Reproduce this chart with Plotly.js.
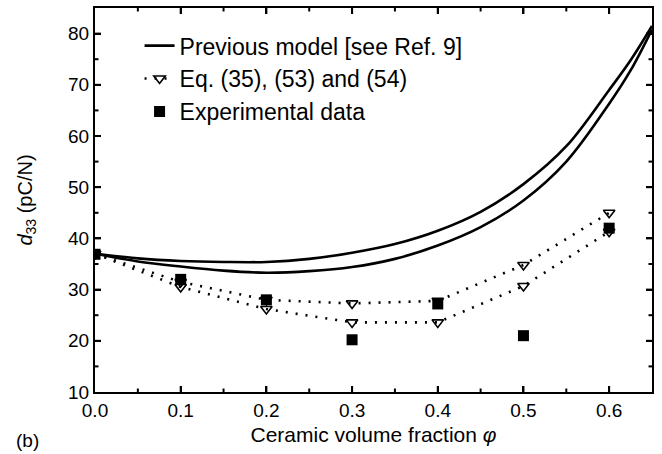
<!DOCTYPE html>
<html><head><meta charset="utf-8">
<script src="https://cdn.plot.ly/plotly-3.0.1.min.js"></script>
<style>html,body{margin:0;padding:0;background:#fff}#chart{width:662px;height:454px}</style>
</head><body><div id="chart"></div>
<script>
// Previous model curves (two branches)
const modelPhi = [0, 0.05, 0.1, 0.15, 0.2, 0.25, 0.3, 0.35, 0.4, 0.45, 0.5, 0.55, 0.6, 0.625, 0.65];
const modelUpper = [37, 36.1, 35.6, 35.4, 35.4, 36, 37.2, 38.9, 41.5, 45.2, 50.6, 58, 69, 74.8, 81.5];
const modelLower = [37, 35.5, 34.5, 33.7, 33.3, 33.6, 34.4, 36, 38.6, 42.2, 47.4, 55, 66.3, 72.8, 80.8];
// Eq. (35), (53) and (54)
const eqPhi = [0, 0.1, 0.2, 0.3, 0.4, 0.5, 0.6];
const eqUpper = [37, 31.5, 28, 27.3, 27.8, 34.8, 45];
const eqLower = [37, 30.5, 26.2, 23.6, 23.6, 30.7, 41.3];
// Experimental data
const expPhi = [0, 0.1, 0.2, 0.3, 0.4, 0.5, 0.6];
const expD33 = [36.9, 32, 28, 20.2, 27.2, 21, 42];
// Axis ticks
const xTicks = [0.1, 0.2, 0.3, 0.4, 0.5, 0.6];
const xMinorTicks = [0.05, 0.15, 0.25, 0.35, 0.45, 0.55];
const yTicks = [20, 30, 40, 50, 60, 70, 80];
const yMinorTicks = [15, 25, 35, 45, 55, 65, 75];

const legendNames = ['Previous model [see Ref. 9]', 'Eq. (35), (53) and (54)', 'Experimental data'];

const FONT = 'Liberation Sans, Arial, Helvetica, sans-serif';
const dotLine = {color: 'black', width: 2.6, dash: '2px,8px'};
const tri = {symbol: 'triangle-down-open', size: 10, color: 'black', line: {width: 1.6, color: 'black'}};

const traces = [
  {x: modelPhi, y: modelUpper, mode: 'lines', line: {color: 'black', width: 2.6, shape: 'spline'},
   name: legendNames[0], legendgroup: 'a'},
  {x: modelPhi, y: modelLower, mode: 'lines', line: {color: 'black', width: 2.6, shape: 'spline'},
   name: legendNames[0], legendgroup: 'a', showlegend: false},
  {x: eqPhi, y: eqUpper, mode: 'lines+markers', line: dotLine, marker: tri,
   name: legendNames[1], legendgroup: 'b'},
  {x: eqPhi, y: eqLower, mode: 'lines+markers', line: dotLine, marker: tri,
   name: legendNames[1], legendgroup: 'b', showlegend: false},
  {x: expPhi, y: expD33, mode: 'markers', marker: {symbol: 'square', size: 11, color: 'black'},
   name: legendNames[2], legendgroup: 'c'}
];

function axis(extra) {
  const a = {
    showline: true, linecolor: 'black', linewidth: 2, mirror: 'ticks',
    ticks: 'inside', ticklen: 6, tickwidth: 2, tickcolor: 'black',
    gridcolor: 'rgba(0,0,0,0)', zerolinecolor: 'rgba(0,0,0,0)',
    tickfont: {family: FONT, size: 19, color: 'black'}
  };
  return Object.assign(a, extra);
}

// tick marks (inside, mirrored) built from the tick arrays
const PW = 557, PH = 384;
const shapes = [];
function xTick(v, len, w) {
  shapes.push({type: 'line', xref: 'x', yref: 'paper', x0: v, x1: v, y0: 0, y1: len / PH, line: {color: 'black', width: w}});
  shapes.push({type: 'line', xref: 'x', yref: 'paper', x0: v, x1: v, y0: 1, y1: 1 - len / PH, line: {color: 'black', width: w}});
}
function yTick(v, len, w) {
  shapes.push({type: 'line', xref: 'paper', yref: 'y', x0: 0, x1: len / PW, y0: v, y1: v, line: {color: 'black', width: w}});
  shapes.push({type: 'line', xref: 'paper', yref: 'y', x0: 1, x1: 1 - len / PW, y0: v, y1: v, line: {color: 'black', width: w}});
}
xTicks.forEach(v => xTick(v, 6, 2));
xMinorTicks.forEach(v => xTick(v, 3.5, 2));
yTicks.forEach(v => yTick(v, 6, 2));
yMinorTicks.forEach(v => yTick(v, 3.5, 2));

const layout = {
  width: 662, height: 454,
  margin: {l: 95, r: 10, t: 8, b: 62},
  font: {family: FONT},
  showlegend: true,
  legend: {x: 0.08, y: 0.958, xanchor: 'left', yanchor: 'top', bgcolor: 'rgba(0,0,0,0)',
           font: {family: FONT, size: 23, color: 'black'}, tracegroupgap: 0, traceorder: 'grouped'},
  xaxis: axis({
    range: [0, 0.65], dtick: 0.1, tick0: 0, tickformat: '.1f',
    title: {text: 'Ceramic volume fraction <i>φ</i>', font: {family: FONT, size: 21, color: 'black'}, standoff: 8}
  }),
  yaxis: axis({
    range: [10, 85], dtick: 10, tick0: 0,
    title: {text: '<i>d</i><sub>33</sub> (pC/N)', font: {family: FONT, size: 20, color: 'black'}, standoff: 30}
  }),
  shapes: shapes,
  annotations: [
    {text: '(b)', xref: 'paper', yref: 'paper', x: -0.122, y: -0.125, xanchor: 'center', yanchor: 'middle',
     showarrow: false, font: {family: FONT, size: 19, color: 'black'}}
  ]
};

Plotly.newPlot('chart', traces, layout, {displayModeBar: false});
</script>
</body></html>
